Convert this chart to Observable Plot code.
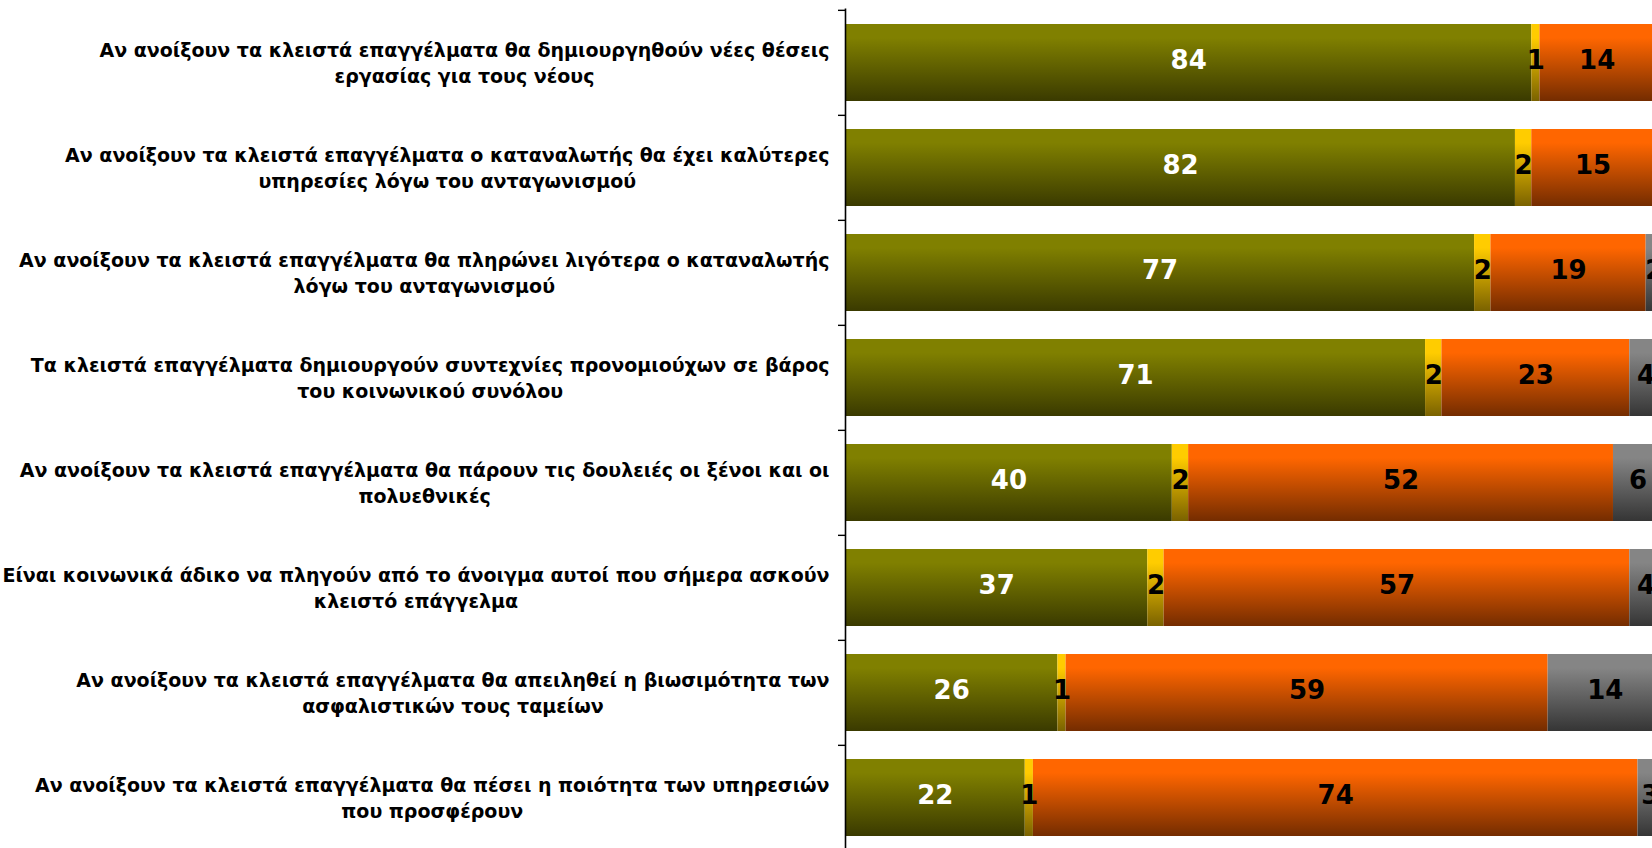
<!DOCTYPE html>
<html>
<head>
<meta charset="utf-8">
<script src="https://cdn.jsdelivr.net/npm/d3@7"></script>
<script src="https://cdn.jsdelivr.net/npm/@observablehq/plot@0.6"></script>
<style>
  html, body { margin: 0; padding: 0; background: #fff; overflow: hidden; }
  #chart svg { display: block; max-width: none; }
</style>
</head>
<body>
<div id="chart"></div>
<script>
const categories = [
  "Αν ανοίξουν τα κλειστά επαγγέλματα θα δημιουργηθούν νέες θέσεις\nεργασίας για τους νέους",
  "Αν ανοίξουν τα κλειστά επαγγέλματα ο καταναλωτής θα έχει καλύτερες\nυπηρεσίες λόγω του ανταγωνισμού",
  "Αν ανοίξουν τα κλειστά επαγγέλματα θα πληρώνει λιγότερα ο καταναλωτής\nλόγω του ανταγωνισμού",
  "Τα κλειστά επαγγέλματα δημιουργούν συντεχνίες προνομιούχων σε βάρος\nτου κοινωνικού συνόλου",
  "Αν ανοίξουν τα κλειστά επαγγέλματα θα πάρουν τις δουλειές οι ξένοι και οι\nπολυεθνικές",
  "Είναι κοινωνικά άδικο να πληγούν από το άνοιγμα αυτοί που σήμερα ασκούν\nκλειστό επάγγελμα",
  "Αν ανοίξουν τα κλειστά επαγγέλματα θα απειληθεί η βιωσιμότητα των\nασφαλιστικών τους ταμείων",
  "Αν ανοίξουν τα κλειστά επαγγέλματα θα πέσει η ποιότητα των υπηρεσιών\nπου προσφέρουν"
];
const seriesNames = ["Συμφωνώ", "Ούτε συμφωνώ ούτε διαφωνώ", "Διαφωνώ", "ΔΓ/ΔΑ"];
const agree    = [84, 82, 77, 71, 40, 37, 26, 22];
const neutral  = [1, 2, 2, 2, 2, 2, 1, 1];
const disagree = [14, 15, 19, 23, 52, 57, 59, 74];
const dontKnow = [1, 1, 2, 4, 6, 4, 14, 3];
const seriesValues = [agree, neutral, disagree, dontKnow];

const gradients = [
  {id: "g-olive",  top: "#808000", bottom: "#3a3a00"},
  {id: "g-yellow", top: "#ffcc00", bottom: "#7a6200"},
  {id: "g-orange", top: "#ff6600", bottom: "#742c00"},
  {id: "g-gray",   top: "#858585", bottom: "#353535"}
];
const fillOf = Object.fromEntries(seriesNames.map((s, i) => [s, `url(#${gradients[i].id})`]));

const rows = seriesNames.flatMap((s, si) =>
  categories.map((c, ci) => ({cat: c, series: s, value: seriesValues[si][ci]}))
);

const W = 1652, H = 848;
const axisX = 845;
const xRange = [axisX, axisX + 817];
const yRange = [8.5, 851];
const step = (yRange[1] - yRange[0]) / categories.length;
const pad = 0.27;

const chart = Plot.plot({
  width: W,
  height: H,
  marginTop: yRange[0],
  marginBottom: 0,
  marginLeft: axisX,
  marginRight: 0,
  style: {background: "white", overflow: "hidden"},
  x: {domain: [0, 100], range: xRange, axis: null},
  y: {domain: categories, range: yRange, paddingInner: pad, paddingOuter: pad / 2, axis: null},
  color: {type: "identity"},
  marks: [
    Plot.text(categories, {
      x: 0, y: d => d, text: d => d,
      textAnchor: "end", dx: -16, dy: -1, lineHeight: 1.36,
      fontSize: 19, fontWeight: "bold", fontFamily: "DejaVu Sans", fill: "black"
    }),
    Plot.barX(rows, Plot.stackX({
      x: "value", y: "cat", z: "series",
      fill: d => fillOf[d.series]
    })),
    Plot.text(rows, Plot.stackX({
      x: "value", y: "cat", z: "series",
      text: d => String(d.value),
      fill: d => d.series === seriesNames[0] ? "white" : "black",
      dy: -2,
      fontSize: 26, fontWeight: "bold", fontFamily: "DejaVu Sans"
    })),
    Plot.ruleX([0], {stroke: "black", strokeWidth: 1.6}),
    Plot.ruleY(categories, {
      y: d => d, x1: 0, x2: 0, insetLeft: -7, dy: -step / 2,
      stroke: "black", strokeWidth: 1.4
    })
  ]
});

document.getElementById("chart").appendChild(chart);

// gradient definitions
const defs = d3.select(chart).insert("defs", ":first-child");
gradients.forEach(g => {
  const lg = defs.append("linearGradient").attr("id", g.id)
    .attr("x1", 0).attr("y1", 0).attr("x2", 0).attr("y2", 1);
  lg.append("stop").attr("offset", "0%").attr("stop-color", g.top);
  lg.append("stop").attr("offset", "18%").attr("stop-color", g.top);
  lg.append("stop").attr("offset", "100%").attr("stop-color", g.bottom);
});

// center multi-line category labels on their longest line
const labelGroup = chart.querySelector('g[aria-label="text"]');
labelGroup.querySelectorAll("text").forEach(t => {
  const spans = Array.from(t.querySelectorAll("tspan"));
  if (!spans.length) return;
  const widths = spans.map(s => s.getComputedTextLength());
  const maxW = Math.max(...widths);
  t.setAttribute("text-anchor", "middle");
  spans.forEach(s => s.setAttribute("x", -maxW / 2));
});
</script>
</body>
</html>
